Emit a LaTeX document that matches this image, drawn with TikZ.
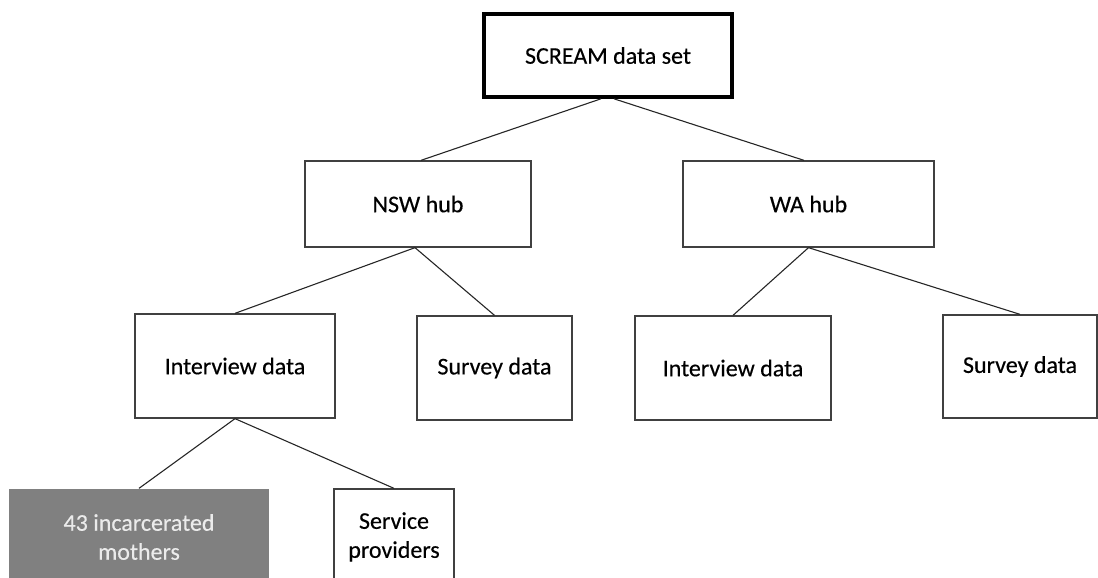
\documentclass[tikz,border=0pt]{standalone}
\usepackage{fontspec}
\setmainfont{Carlito}[FakeBold=0.35]
\usetikzlibrary{calc,positioning}

\begin{document}
\begin{tikzpicture}[
                x=1pt,y=-1pt,
                every node/.append style={rectangle,draw=black!75,line width=1.3pt,align=center,inner sep=0pt,font=\fontsize{24}{29}\selectfont},
                link/.style={line width=1.1pt,draw=black!85}
            ]
                \useasboundingbox (0,0) rectangle (1098,578);
                \node (scream) [draw=black,line width=3.6pt,minimum width=248pt,minimum height=83pt] at (608,55.5) {SCREAM data set};
                \node (nsw)  [minimum width=226pt,minimum height=86pt]  at (418,204)     {NSW hub};
                \node (wa)   [minimum width=251pt,minimum height=86pt]  at (808.5,204)   {WA hub};
                \node (int1) [minimum width=200pt,minimum height=104pt] at (235,366)     {Interview data};
                \node (sur1) [minimum width=155pt,minimum height=104pt] at (494.5,368)   {Survey data};
                \node (int2) [minimum width=196pt,minimum height=104pt] at (733,368)     {Interview data};
                \node (sur2) [minimum width=154pt,minimum height=103pt] at (1020,366.5)  {Survey data};
                \node (moth) [draw=none,fill=black!50,text=black!8,minimum width=260pt,minimum height=96pt] at (139,537) {43 incarcerated\\mothers};
                \node (serv) [minimum width=120pt,minimum height=96pt]  at (394,537)     {Service\\providers};
                \draw[link] ([xshift=-7pt]scream.south) -- ([xshift=3pt]nsw.north);
                \draw[link] ([xshift=6pt]scream.south) -- ([xshift=-4.5pt]wa.north);
                \draw[link] ([xshift=-3pt]nsw.south) -- (int1.north);
                \draw[link] ([xshift=-3pt]nsw.south) -- (sur1.north);
                \draw[link] (wa.south) -- (int2.north);
                \draw[link] (wa.south) -- (sur2.north);
                \draw[link] (int1.south) -- (moth.north);
                \draw[link] (int1.south) -- (serv.north);
            \end{tikzpicture}
\end{document}
